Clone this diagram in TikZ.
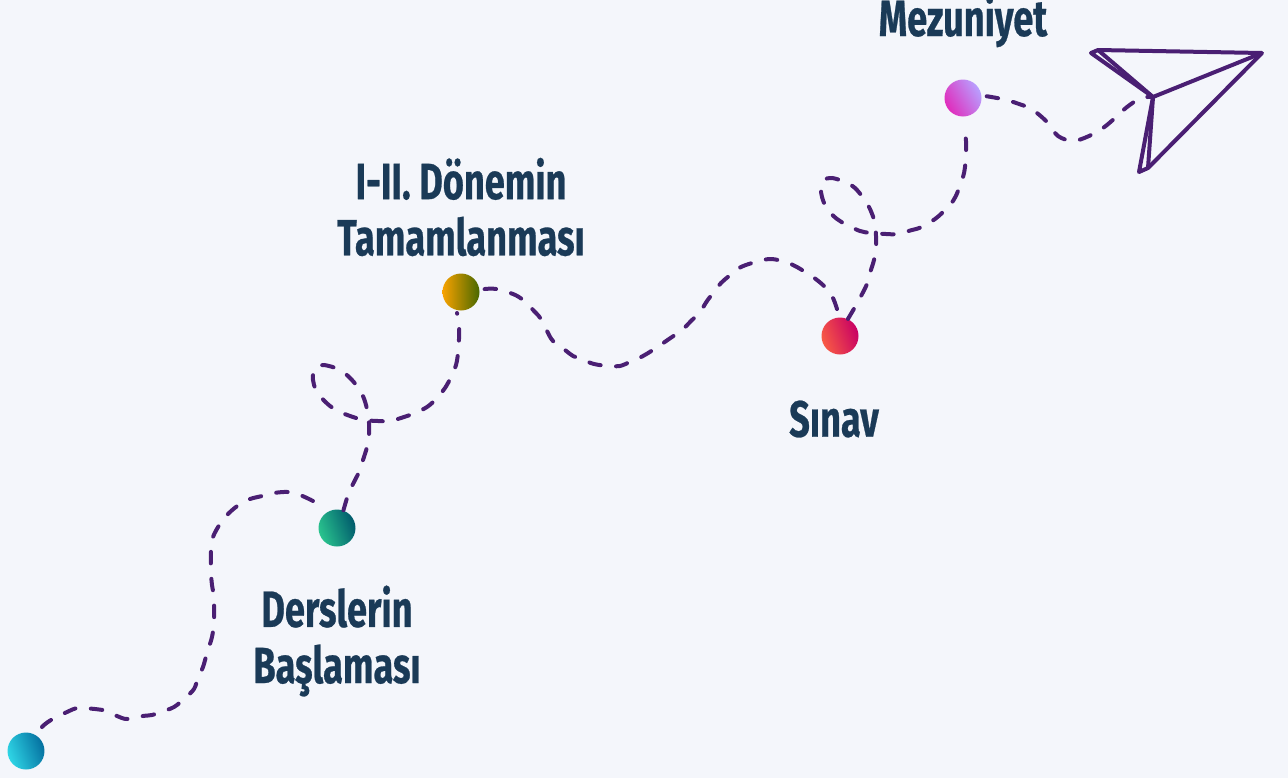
\documentclass[tikz,border=0pt]{standalone}
\usepackage{fontspec}
\newfontfamily\labelfont[FakeStretch=0.71,FakeBold=0.5]{Fira Sans Bold}
\definecolor{bgc}{HTML}{F4F6FB}
\definecolor{ink}{HTML}{1A3A57}
\definecolor{route}{HTML}{4A1F73}
\definecolor{a1}{HTML}{2FD6E6}\definecolor{a2}{HTML}{0470A0}
\definecolor{b1}{HTML}{2AC48E}\definecolor{b2}{HTML}{005A6C}
\definecolor{c1}{HTML}{F8A200}\definecolor{c2}{HTML}{486800}
\definecolor{e1}{HTML}{F85A44}\definecolor{e2}{HTML}{C80064}
\definecolor{f1}{HTML}{E02CBC}\definecolor{f2}{HTML}{B8A0FF}
\tikzset{
  dot/.style 2 args={circle,minimum size=.74cm,inner sep=0pt,left color=#1,right color=#2,shading angle=110},
  routeline/.style={draw=route,line width=.08cm,line cap=round,dash pattern=on .23cm off .31cm,dash phase=#1},
  routeline/.default=0cm,
  planeline/.style={draw=route,line width=.08cm,line join=round},
  lab/.style={text=ink,font=\labelfont\fontsize{29}{32}\selectfont,align=center,inner sep=0pt}
}
\begin{document}
\begin{tikzpicture}[x=.02cm,y=-.02cm]
\useasboundingbox (0,0) rectangle (1288,778);
\fill[bgc] (0,0) rectangle (1288,778);
\node[dot={a1}{a2}] (d1) at (26,751) {};
\node[dot={b1}{b2}] (d2) at (337,528) {};
\node[dot={c1}{c2},shading angle=90] (d3) at (461,292) {};
\node[dot={e1}{e2}] (d4) at (840,336) {};
\node[dot={f1}{f2},shading angle=120] (d5) at (963,98) {};
\coordinate (tail) at (1153,97);
\coordinate (tip) at (1262,53);
\coordinate (wingA) at (1098,50);
\coordinate (wingB) at (1091,53);
\coordinate (wingC) at (1139,172);
\coordinate (wingD) at (1148,168);
\node[lab] (t1) at (337,641) {Derslerin\\Başlaması};
\node[lab] (t2) at (461,207) {I-II. Dönemin\\Tamamlanması};
\node[lab] (t3) at (834,419) {Sınav};
\node[lab] (t4) at (963,21) {Mezuniyet};
\draw[routeline=.34cm] plot[smooth,tension=.55] coordinates {(d1.55) (42,727) (51,720) (67,712) (78,708) (95,709) (103,710) (117,716) (127,719) (143,716) (152,715) (161,712) (174,707) (185,698) (194,689) (198,678) (203,667) (207,653) (212,637) (214,622) (214,610) (214,597) (212,585) (211,572) (211,550) (213,537) (220,524) (229,513) (240,504) (250,499) (262,496) (274,493) (288,492) (300,495) (313,501) (321,506)};
\draw[routeline] plot[smooth,tension=.55] coordinates {(d2.70) (348,495) (353,484) (359,472) (363,460) (367,447) (369,435) (369,423) (367,409) (363,396) (357,386) (348,376) (338,369) (324,365) (316,367) (313,375) (314,385) (320,396) (330,406) (340,412) (353,417) (364,420) (378,421) (390,421) (404,417) (415,413) (427,407) (436,399) (445,388) (451,377) (456,365) (458,353) (459,339) (459,327) (457,313)};
\draw[routeline=.44cm] plot[smooth,tension=.55] coordinates {(d3.5) (485,289) (496,289) (513,294) (523,300) (535,312) (541,319) (547,331) (553,341) (565,350) (573,356) (581,359) (594,364) (609,366) (620,366) (632,361) (643,356) (656,348) (669,339) (682,330) (691,321) (700,312) (707,301) (714,292) (721,283) (729,276) (739,268) (752,263) (769,259) (782,261) (793,265) (802,270) (813,277) (824,286) (832,296) (837,309) (d4.95)};
\draw[routeline] plot[smooth,tension=.55] coordinates {(d4.65) (855,307) (860,298) (867,284) (870,273) (874,260) (876,248) (876,236) (875,223) (870,209) (864,199) (855,188) (845,182) (832,178) (824,180) (821,188) (822,197) (827,209) (837,219) (847,225) (860,231) (871,233) (886,234) (897,234) (912,230) (922,227) (935,219) (943,212) (953,201) (958,191) (963,177) (965,167) (966,152) (966,141) (964,126)};
\draw[routeline=.44cm] plot[smooth,tension=.55] coordinates {(d5.5) (985,96) (997,98) (1007,100) (1022,105) (1028,107) (1037,113) (1048,123) (1058,136) (1073,141) (1089,136) (1103,128) (1115,118) (1127,107) (1141,98) (tail)};
\draw[planeline] (tail) -- (tip) -- (wingA) -- (wingB) -- cycle;
\draw[planeline] (wingA) -- (tail);
\draw[planeline] (tail) -- (wingC) -- (wingD) -- (tip);
\draw[planeline] (tail) -- (wingD);
\end{tikzpicture}
\end{document}
